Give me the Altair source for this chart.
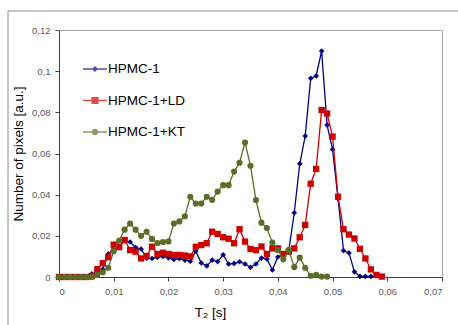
import altair as alt
import pandas as pd

series_names = ["HPMC-1", "HPMC-1+LD", "HPMC-1+KT"]

hpmc = [0, 0, 0, 0, 0, 0, 0.0015, 0.0008, 0.0037, 0.0112,
        0.0130, 0.0148, 0.0175, 0.0170, 0.0143, 0.0136, 0.0092, 0.0090, 0.0096, 0.0100,
        0.0093, 0.0085, 0.0090, 0.0082, 0.0077, 0.0125, 0.0068, 0.0054, 0.0082, 0.0075,
        0.0108, 0.0063, 0.0066, 0.0074, 0.0063, 0.0047, 0.0063, 0.0092, 0.0088, 0.0034,
        0.0097, 0.0112, 0.0130, 0.0312, 0.0550, 0.0685, 0.0965, 0.0977, 0.1098, 0.0738,
        0.0620, 0.0380, 0.0128, 0.0117, 0.0025, 0.0003, 0.0003, 0.0003]

hpmc_ld = [0, 0, 0, 0, 0, 0, 0.0005, 0.0038, 0.0067, 0.0096,
           0.0157, 0.0145, 0.0180, 0.0131, 0.0123, 0.0090, 0.0102, 0.0147, 0.0112, 0.0118,
           0.0112, 0.0107, 0.0107, 0.0104, 0.0100, 0.0147, 0.0155, 0.0164, 0.0220, 0.0209,
           0.0193, 0.0186, 0.0164, 0.0232, 0.0172, 0.0136, 0.0130, 0.0148, 0.0112, 0.0139,
           0.0139, 0.0112, 0.0123, 0.0139, 0.0193, 0.0253, 0.0453, 0.0525, 0.0811, 0.0794,
           0.0682, 0.0390, 0.0232, 0.0206, 0.0187, 0.0137, 0.0090, 0.0037, 0.0010, 0.0002]

hpmc_kt = [0, 0, 0, 0, 0, 0, 0, 0.0010, 0.0023, 0.0045,
           0.0125, 0.0177, 0.0230, 0.0260, 0.0230, 0.0200, 0.0220, 0.0185, 0.0165, 0.0170,
           0.0173, 0.0260, 0.0270, 0.0295, 0.0390, 0.0357, 0.0357, 0.0390, 0.0375, 0.0415,
           0.0446, 0.0446, 0.0512, 0.0555, 0.0653, 0.0540, 0.0374, 0.0264, 0.0238, 0.0167,
           0.0131, 0.0086, 0.0132, 0.0048, 0.0094, 0.0045, 0.0006, 0.0010, 0.0002, 0.0002]

x_ticks = [0, 0.01, 0.02, 0.03, 0.04, 0.05, 0.06, 0.07]
y_ticks = [0, 0.02, 0.04, 0.06, 0.08, 0.10, 0.12]

# ---- styles ----
colors = ["#000080", "#CC0000", "#5A6E2A"]
shapes = ["diamond", "square", "circle"]
sizes = [32, 40, 38]
legend_paths = [
    "M-1.5,-0.08H1.5V0.08H-1.5Z M0,-0.38L0.38,0L0,0.38L-0.38,0Z",
    "M-1.5,-0.08H1.5V0.08H-1.5Z M-0.45,-0.45H0.45V0.45H-0.45Z",
    "M-1.5,-0.08H1.5V0.08H-1.5Z M0.42,0A0.42,0.42 0 1,1 -0.42,0A0.42,0.42 0 1,1 0.42,0Z",
]
FONT = "Liberation Sans"

rows = []
for name, vals in zip(series_names, [hpmc, hpmc_ld, hpmc_kt]):
    for i, v in enumerate(vals):
        rows.append({"series": name, "t": round(i * 0.001, 3), "v": v})
df = pd.DataFrame(rows)

fmt = "replace(format(datum.value, '.2~f'), '.', ',')"
X = alt.X("t:Q", scale=alt.Scale(domain=[0, 0.07], nice=False, zero=False),
          axis=alt.Axis(values=x_ticks, labelExpr=fmt, title="T₂ [s]", grid=False,
                        titleX=151, titleY=39, titleAlign="center", titleBaseline="alphabetic",
                        labelPadding=5))
Y = alt.Y("v:Q", scale=alt.Scale(domain=[0, 0.12], nice=False),
          axis=alt.Axis(values=y_ticks, labelExpr=fmt, title="Number of pixels [a.u.]", grid=False,
                        titleX=-41, titleY=123.5, titleAlign="center", titleBaseline="middle",
                        titleAngle=-90, labelPadding=5))

legend = alt.Legend(
    title=None, orient="none", legendX=28, legendY=31, padding=0, offset=0,
    symbolSize=256, symbolStrokeWidth=0, rowPadding=16.5, labelOffset=5,
    labelFont=FONT, labelFontSize=13.5, labelColor="#000000", labelLimit=300,
)

base = alt.Chart(df)
layers = []

frame = alt.Chart(pd.DataFrame({"k": [0]}))
layers.append(frame.mark_rule(color="#8c8c8c", strokeWidth=1).encode(
    x=alt.value(-51), x2=alt.value(420), y=alt.value(-19)))
layers.append(frame.mark_rule(color="#8c8c8c", strokeWidth=1).encode(
    x=alt.value(-51), y=alt.value(-19), y2=alt.value(300)))

for name, c, shp, sz in zip(series_names, colors, shapes, sizes):
    sub = base.transform_filter(alt.datum.series == name)
    layers.append(sub.mark_line(color=c, strokeWidth=1.3).encode(x=X, y=Y))
    layers.append(sub.mark_point(shape=shp, filled=True, size=sz, color=c, opacity=1).encode(x=X, y=Y))

# legend-only layer: no marks drawn (all rows filtered out), entries come from the explicit domain
layers.append(base.transform_filter("false").mark_point(filled=True).encode(
    x=X, y=Y,
    color=alt.Color("series:N", scale=alt.Scale(domain=series_names, range=colors), legend=legend),
    shape=alt.Shape("series:N", scale=alt.Scale(domain=series_names, range=legend_paths), legend=legend),
))

chart = alt.layer(*layers).properties(
    width=383, height=247,
    autosize=alt.AutoSizeParams(type="none"),
    padding={"left": 59, "top": 30, "right": 16, "bottom": 48},
    background="white",
).configure_view(
    stroke="#a6a6a6", strokeWidth=1
).configure_axis(
    domainColor="#404040", tickColor="#404040", tickSize=4,
    labelFont=FONT, labelFontSize=9.5, labelColor="#595959",
    titleFont=FONT, titleFontSize=13.5, titleColor="#000000", titleFontWeight="normal",
)

chart.save("out.html", embed_options={"renderer": "svg", "actions": False})
